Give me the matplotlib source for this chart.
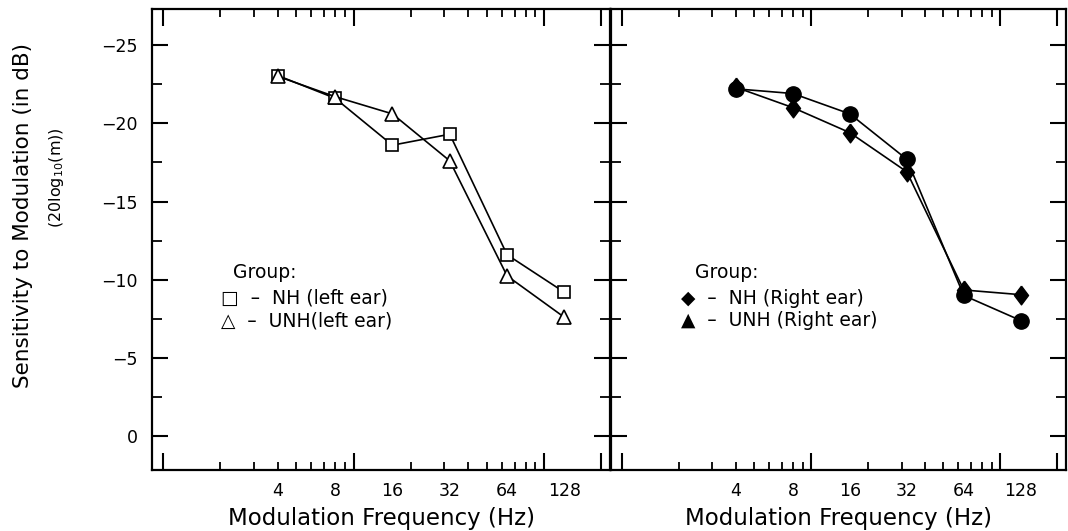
import matplotlib
matplotlib.use("Agg")
import matplotlib.pyplot as plt
import matplotlib.transforms as mtransforms

# ---- data ----
freqs = [4, 8, 16, 32, 64, 128]
freq_labels = ["4", "8", "16", "32", "64", "128"]
nh_left = [-23.05, -21.6, -18.6, -19.3, -11.6, -9.2]
unh_left = [-23.0, -21.7, -20.6, -17.6, -10.25, -7.6]
nh_right = [-22.3, -21.0, -19.4, -16.9, -9.35, -9.05]
unh_right = [-22.2, -21.9, -20.6, -17.7, -9.0, -7.4]
yticks = [-25, -20, -15, -10, -5, 0]
ytick_labels = ["\u221225", "\u221220", "\u221215", "\u221210", "\u22125", "0"]

plt.rcParams['font.family'] = ['DejaVu Sans']

W, H = 1068, 531
fig = plt.figure(figsize=(W / 100, H / 100), dpi=100)

bottom = 1 - 470 / H
top = 1 - 9 / H
ax1 = fig.add_axes([152 / W, bottom, (610 - 152) / W, top - bottom])
ax2 = fig.add_axes([611 / W, bottom, (1066 - 611) / W, top - bottom])

xlim = (0.875, 222)
ylim = (2.15, -27.3)

for ax in (ax1, ax2):
    ax.set_xscale('log')
    ax.set_xlim(*xlim)
    ax.set_ylim(*ylim)
    ax.set_xticks([1, 10, 100, 200])
    ax.set_xticklabels([])
    minors = [m * d for d in (1, 10) for m in range(2, 10)]
    ax.set_xticks(minors, minor=True)
    ax.set_xticklabels([], minor=True)
    ax.set_yticks(yticks)
    ax.set_yticks([-22.5, -17.5, -12.5, -7.5, -2.5], minor=True)
    ax.tick_params(axis='x', which='major', direction='in', length=12, width=1.5,
                   top=True, bottom=True)
    ax.tick_params(axis='x', which='minor', direction='in', length=6, width=1.3,
                   top=True, bottom=True)
    ax.tick_params(axis='y', which='major', direction='in', length=11.5, width=1.5,
                   left=True, right=True)
    ax.tick_params(axis='y', which='minor', direction='in', length=7, width=1.3,
                   left=True, right=True)
    for sp in ax.spines.values():
        sp.set_linewidth(1.6)
    trans = mtransforms.blended_transform_factory(ax.transData, ax.transAxes)
    for f, lab in zip(freqs, freq_labels):
        ax.text(f, -0.025, lab, transform=trans, ha='center', va='top', fontsize=12.5)
    ax.text(0.5, -0.08, "Modulation Frequency (Hz)", transform=ax.transAxes,
            ha='center', va='top', fontsize=16.5)

ax1.set_yticklabels(ytick_labels, fontsize=12.5)
ax1.tick_params(axis='y', which='major', pad=10)
ax2.set_yticklabels([])

# left panel
ax1.plot(freqs, nh_left, color='black', lw=1.2, marker='s', ms=8.5,
         mfc='white', mec='black', mew=1.2, zorder=3)
ax1.plot(freqs, unh_left, color='black', lw=1.2, marker='^', ms=10,
         mfc='white', mec='black', mew=1.2, zorder=3)

# right panel
diamond = [(0, 1), (0.75, 0), (0, -1), (-0.75, 0), (0, 1)]
ax2.plot(freqs, nh_right, color='black', lw=1.2, marker=diamond, ms=13.5,
         mfc='black', mec='black', zorder=3)
ax2.plot(freqs, unh_right, color='black', lw=1.2, marker='o', ms=11,
         mfc='black', mec='black', zorder=3)

# legends (text)
def fx(px):
    return px / W

def fy(py):
    return 1 - py / H

fs_leg = 13.5
fig.text(fx(233), fy(273), "Group:", fontsize=fs_leg, va='center', ha='left')
fig.text(fx(221), fy(298), "\u25a1  \u2013  NH (left ear)", fontsize=fs_leg, va='center', ha='left')
fig.text(fx(221), fy(321), "\u25b3  \u2013  UNH(left ear)", fontsize=fs_leg, va='center', ha='left')

fig.text(fx(695), fy(273), "Group:", fontsize=fs_leg, va='center', ha='left')
fig.text(fx(681), fy(298), "\u25c6  \u2013  NH (Right ear)", fontsize=fs_leg, va='center', ha='left')
fig.text(fx(681), fy(321), "\u25b2  \u2013  UNH (Right ear)", fontsize=fs_leg, va='center', ha='left')

# y labels
fig.text(fx(23), fy(216), "Sensitivity to Modulation (in dB)", rotation=90,
         fontsize=15.5, ha='center', va='center')
fig.text(fx(57), fy(178), r"(20log$_{10}$(m))", rotation=90,
         fontsize=11.5, ha='center', va='center')

fig.savefig("out.png", dpi=100)
